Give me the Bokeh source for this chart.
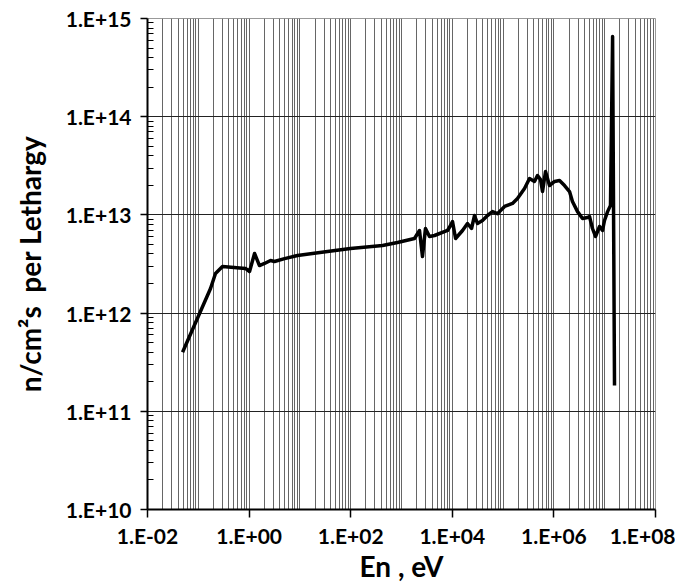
from bokeh.plotting import figure
from bokeh.models import FixedTicker, CustomJSTickFormatter, Range1d
from bokeh.embed import file_html
from bokeh.resources import INLINE

energy_eV = [0.049, 0.174, 0.218, 0.299, 0.849, 1.02, 1.28, 1.60, 2.01, 2.64,
             3.16, 4.98, 8.97, 34.9, 99, 423, 834, 1803, 2260, 2588,
             2965, 3556, 4467, 8054, 9226, 1.01e4, 1.16e4, 1.59e4, 1.99e4, 2.39e4,
             2.74e4, 3.13e4, 3.93e4, 4.93e4, 6.18e4, 7.76e4, 1.07e5, 1.53e5, 1.92e5, 2.64e5,
             3.31e5, 4.15e5, 4.75e5, 5.45e5, 5.97e5, 6.84e5, 8.19e5, 1.03e6, 1.29e6, 1.62e6,
             2.03e6, 2.32e6, 2.92e6, 3.66e6, 4.58e6, 5.02e6, 5.75e6, 6.59e6, 7.91e6, 9.06e6,
             9.91e6, 1.14e7, 1.30e7, 1.43e7, 1.56e7]
flux = [4.0e11, 1.78e12, 2.53e12, 2.98e12, 2.85e12, 2.65e12, 4.05e12, 3.05e12, 3.20e12, 3.43e12,
        3.35e12, 3.59e12, 3.86e12, 4.24e12, 4.55e12, 4.88e12, 5.24e12, 5.75e12, 6.94e12, 3.77e12,
        7.27e12, 6.03e12, 6.17e12, 6.94e12, 7.80e12, 8.57e12, 5.75e12, 6.94e12, 8.17e12, 7.27e12,
        9.86e12, 8.17e12, 8.77e12, 9.86e12, 1.08e13, 1.03e13, 1.22e13, 1.31e13, 1.47e13, 1.86e13,
        2.35e13, 2.19e13, 2.52e13, 2.29e13, 1.73e13, 2.77e13, 1.99e13, 2.19e13, 2.24e13, 1.99e13,
        1.73e13, 1.37e13, 1.08e13, 9.19e12, 9.41e12, 9.64e12, 7.27e12, 6.03e12, 7.62e12, 6.94e12,
        8.77e12, 1.08e13, 1.25e13, 6.56e14, 1.83e11]

x_ticks = [1e-2, 1e0, 1e2, 1e4, 1e6, 1e8]
x_tick_labels = ["1.E-02", "1.E+00", "1.E+02", "1.E+04", "1.E+06", "1.E+08"]
y_ticks = [1e10, 1e11, 1e12, 1e13, 1e14, 1e15]
y_tick_labels = ["1.E+10", "1.E+11", "1.E+12", "1.E+13", "1.E+14", "1.E+15"]

x_minor = [k * 10.0 ** n for n in range(-2, 8) for k in range(1, 10) if not (k == 1 and n % 2 == 0)]
y_minor = [k * 10.0 ** n for n in range(10, 15) for k in range(2, 10)]

FONT = "Lato"

p = figure(frame_width=508, frame_height=491, x_axis_type="log", y_axis_type="log",
           x_range=Range1d(1e-2, 1e8), y_range=Range1d(1e10, 1e15),
           output_backend="svg", toolbar_location=None,
           min_border_left=147, min_border_right=20, min_border_top=18, min_border_bottom=0)

p.line(energy_eV, flux, line_color="black", line_width=3.5, line_join="round")

fmt_code = """
let best = 0; let bd = 1e9;
for (let i = 0; i < tvals.length; i++) {
  const d = Math.abs(Math.log10(tick) - Math.log10(tvals[i]));
  if (d < bd) { bd = d; best = i; }
}
return tlabels[best];
"""
p.xaxis.ticker = FixedTicker(ticks=x_ticks, minor_ticks=x_minor)
p.yaxis.ticker = FixedTicker(ticks=y_ticks, minor_ticks=y_minor)
p.xaxis.formatter = CustomJSTickFormatter(args=dict(tvals=x_ticks, tlabels=x_tick_labels), code=fmt_code)
p.yaxis.formatter = CustomJSTickFormatter(args=dict(tvals=y_ticks, tlabels=y_tick_labels), code=fmt_code)

for ax in (p.xaxis[0], p.yaxis[0]):
    ax.axis_line_color = "black"
    ax.axis_line_width = 2
    ax.major_tick_line_color = "black"
    ax.major_tick_line_width = 1.5
    ax.major_tick_in = 0
    ax.major_label_text_font = FONT
    ax.major_label_text_font_style = "bold"
    ax.major_label_text_font_size = "21px"
    ax.major_label_text_color = "black"
    ax.major_label_text_line_height = 1.0
    ax.axis_label_text_font = FONT
    ax.axis_label_text_font_style = "bold"
    ax.axis_label_text_font_size = "28px"
    ax.axis_label_text_color = "black"
    ax.axis_label_text_line_height = 1.0

p.xaxis.major_tick_out = 8
p.xaxis.minor_tick_line_color = None
p.xaxis.major_label_standoff = 5
p.xaxis.axis_label_standoff = -2
p.xaxis.axis_label = "En , eV"

p.yaxis.major_tick_out = 7
p.yaxis.minor_tick_in = 6
p.yaxis.minor_tick_out = 0
p.yaxis.minor_tick_line_color = "black"
p.yaxis.major_label_standoff = 9
p.yaxis.axis_label_standoff = 16
p.yaxis.axis_label = "n/cm\u00b2s\u00a0 per Lethargy"

p.xgrid.grid_line_color = "#666666"
p.xgrid.grid_line_width = 1
p.xgrid.minor_grid_line_color = "#666666"
p.xgrid.minor_grid_line_width = 1
p.ygrid.grid_line_color = "#222222"
p.ygrid.grid_line_width = 1
p.ygrid.minor_grid_line_color = None

p.outline_line_color = "#999999"
p.background_fill_color = "white"
p.border_fill_color = "white"

open("out.html", "w").write(file_html(p, INLINE))
